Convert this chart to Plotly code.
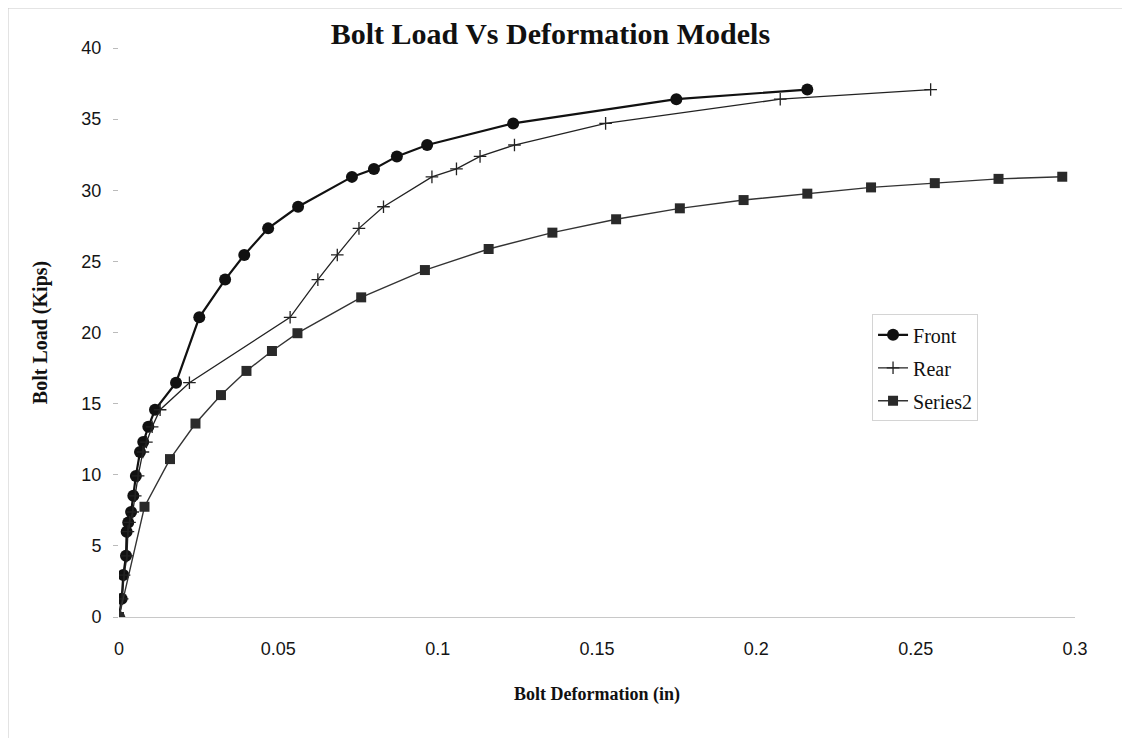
import plotly.graph_objects as go

# ---------------- data ----------------
front_x = [0, 0.00085, 0.00135, 0.0022, 0.0024, 0.0029, 0.0038, 0.0045, 0.0053, 0.0066, 0.0076,
           0.0092, 0.0113, 0.0179, 0.0252, 0.0333, 0.0393, 0.0468, 0.0562, 0.0731, 0.080,
           0.0872, 0.0967, 0.1237, 0.1749, 0.216]
front_y = [0, 1.28, 2.95, 4.3, 6.0, 6.65, 7.38, 8.52, 9.92, 11.6, 12.3,
           13.37, 14.57, 16.47, 21.07, 23.72, 25.45, 27.32, 28.84, 30.94, 31.5,
           32.38, 33.18, 34.7, 36.4, 37.08]

rear_x = [0, 0.001, 0.0016, 0.0025, 0.0028, 0.0033, 0.0043, 0.0051, 0.006, 0.0075, 0.0086,
          0.0104, 0.0129, 0.0221, 0.0537, 0.0624, 0.0685, 0.0753, 0.083, 0.0982, 0.1059,
          0.1133, 0.1241, 0.1527, 0.2075, 0.2547]
rear_y = [0, 1.28, 2.95, 4.3, 6.0, 6.65, 7.38, 8.52, 9.92, 11.6, 12.3,
          13.37, 14.57, 16.47, 21.07, 23.72, 25.45, 27.32, 28.84, 30.94, 31.5,
          32.38, 33.18, 34.7, 36.4, 37.08]

series2_x = [0, 0.008, 0.016, 0.024, 0.032, 0.040, 0.048, 0.056, 0.076, 0.096, 0.116,
             0.136, 0.156, 0.176, 0.196, 0.216, 0.236, 0.256, 0.276, 0.296]
series2_y = [0, 7.75, 11.1, 13.6, 15.6, 17.3, 18.7, 19.95, 22.47, 24.39, 25.87,
             27.02, 27.96, 28.73, 29.31, 29.76, 30.2, 30.5, 30.8, 30.95]

x_ticks = [0, 0.05, 0.1, 0.15, 0.2, 0.25, 0.3]
x_tick_text = ["0", "0.05", "0.1", "0.15", "0.2", "0.25", "0.3"]
y_ticks = [0, 5, 10, 15, 20, 25, 30, 35, 40]

# ---------------- figure ----------------
fig = go.Figure()

fig.add_trace(go.Scatter(
    x=front_x, y=front_y, name="Front", mode="lines+markers", legendgroup="g1",
    line=dict(color="#111111", width=2.2),
    marker=dict(symbol="circle", size=12, color="#111111"),
))
fig.add_trace(go.Scatter(
    x=rear_x, y=rear_y, name="Rear", mode="lines+markers", legendgroup="g2",
    line=dict(color="#222222", width=1.3),
    marker=dict(symbol="cross-thin", size=9, color="#222222",
                line=dict(color="#222222", width=1.3)),
))
fig.add_trace(go.Scatter(
    x=series2_x, y=series2_y, name="Series2", mode="lines+markers", legendgroup="g3",
    line=dict(color="#333333", width=1.4),
    marker=dict(symbol="square", size=10, color="#2a2a2a"),
))

fig.update_layout(
    width=1130, height=738,
    margin=dict(l=111, r=63, t=40, b=129),
    paper_bgcolor="white", plot_bgcolor="white",
    title=dict(
        text="<b>Bolt Load Vs Deformation Models</b>",
        font=dict(family="Liberation Serif", size=30, color="#111111"),
        x=0.48, xref="container", xanchor="center",
        y=0.966, yref="container", yanchor="middle",
    ),
    showlegend=True,
    legend=dict(
        x=0.7877, y=0.532, xanchor="left", yanchor="top",
        font=dict(family="Liberation Serif", size=20, color="#111111"),
        bgcolor="white", bordercolor="#d4d4d4", borderwidth=1,
        tracegroupgap=4,
    ),
    xaxis=dict(
        range=[0, 0.3], tickvals=x_ticks, ticktext=x_tick_text,
        showgrid=False, zeroline=False,
        showline=True, linecolor="#c8c8c8", linewidth=1,
        ticks="", ticklabelstandoff=15,
        tickfont=dict(family="Liberation Sans", size=18, color="#151515"),
        title=dict(text="<b>Bolt Deformation (in)</b>",
                   font=dict(family="Liberation Serif", size=18, color="#111111"),
                   standoff=29),
    ),
    yaxis=dict(
        range=[0, 40], tickvals=y_ticks,
        showgrid=False, zeroline=False, showline=False,
        ticks="outside", ticklen=5, tickcolor="#bbbbbb", tickwidth=1,
        ticklabelstandoff=8,
        tickfont=dict(family="Liberation Sans", size=18, color="#151515"),
        title=dict(text="<b>Bolt Load (Kips)</b>",
                   font=dict(family="Liberation Serif", size=20, color="#111111"),
                   standoff=28),
    ),
    shapes=[dict(type="rect", xref="paper", yref="paper",
                 x0=-0.1161, x1=1.053, y0=-0.2267, y1=1.0703,
                 line=dict(color="#c8c8c8", width=1), layer="below")],
)

fig.write_html("out.html")
